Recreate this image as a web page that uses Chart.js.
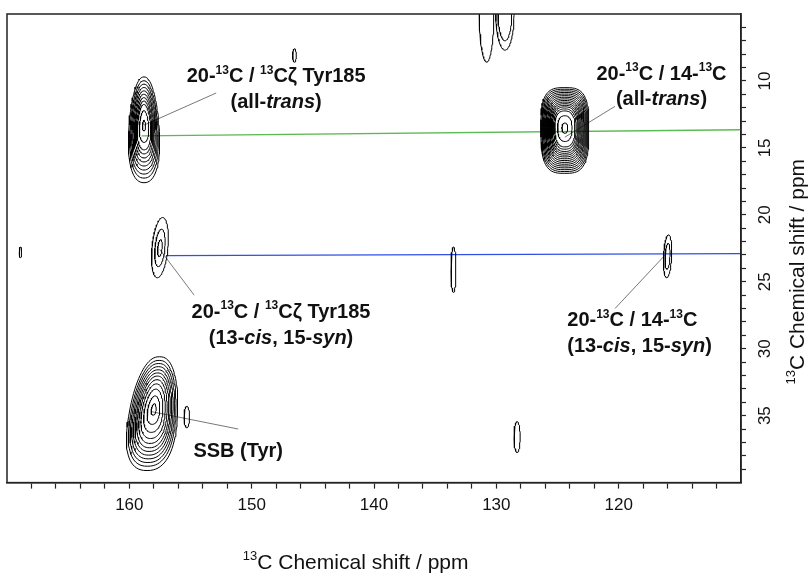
<!DOCTYPE html>
<html>
<head>
<meta charset="utf-8">
<script src="https://cdn.jsdelivr.net/npm/chart.js@4.4.1/dist/chart.umd.min.js"></script>
<style>
  html, body { margin: 0; padding: 0; background: #fff; }
</style>
</head>
<body>
<canvas id="nmr" width="809" height="574"></canvas>
<script>
// ==============================
// DATA
// ==============================

// axis ranges (ppm) and labelled ticks
const xRange = [110, 170];
const yRange = [5, 40];
const xTickLabels = [120, 130, 140, 150, 160];
const yTickLabels = [10, 15, 20, 25, 30, 35];
const axisTitle = '^13C Chemical shift / ppm';

// cross peaks: centre (ppm), half width, extent up / down, skew, taper, squareness
const peakX      = [158.8, 124.4, 157.5, 116.0, 133.5, 158.0, 155.3, 128.3, 168.9, 146.5, 130.8, 129.3];
const peakY      = [13.3, 13.5, 22.5, 23.1, 24.1, 34.5, 35.1, 36.6, 22.8, 8.1, 4.8, 4.9];
const peakW      = [1.22, 1.96, 0.65, 0.33, 0.2, 1.95, 0.22, 0.25, 0.1, 0.15, 0.6, 0.75];
const peakUp     = [3.6, 3.0, 2.3, 1.6, 1.7, 3.9, 0.8, 1.15, 0.4, 0.5, 3.8, 2.8];
const peakDown   = [4.3, 3.4, 2.2, 1.6, 1.7, 4.6, 0.8, 1.15, 0.4, 0.5, 3.8, 2.8];
const peakShear  = [0, 0, 0.1, 0.05, 0, 0.12, 0, 0, 0, 0, 0, 0];
const peakTaper  = [0.25, 0, 0, 0, 0, 0.2, 0, 0, 0, 0, 0, 0];
const peakSquare = [2.3, 3.2, 2, 2, 2, 2.4, 2, 2, 2, 2, 2, 2];
const peakLevels = [
    [1, .92, .85, .78, .71, .64, .57, .5, .43, .3, .1],
    [1, .96, .92, .88, .84, .8, .76, .72, .68, .64, .6, .56, .52, .47, .42, .3, .12],
    [1, .62, .28],
    [1, .6],
    [1],
    [1, .93, .87, .81, .75, .69, .63, .56, .48, .38, .25, .1],
    [1], [1], [1], [1], [1],
    [1, .75]
];

// reference lines across the spectrum
const greenLine = [[159.0, 14.1], [110, 13.65]];
const blueLine  = [[157.0, 23.05], [110, 22.9]];

// leader lines from labels to peaks
const leaders = [
    [[152.9, 10.9], [158.8, 13.3]],
    [[120.3, 11.9], [124.4, 14.2]],
    [[157.5, 22.6], [154.7, 26.0]],
    [[116.2, 23.0], [120.3, 27.0]],
    [[158.2, 34.7], [151.1, 36.0]]
];

// peak assignments
const labelX = [148.0, 116.5, 147.6, 124.2, 151.1];
const labelY = [9.7, 9.5, 27.3, 27.9, 37.7];
const labelAlign = ['center', 'center', 'center', 'left', 'center'];
const labelLines = [
    ['20-^13C / ^13Cζ Tyr185', '(all-_trans_)'],
    ['20-^13C / 14-^13C', '(all-_trans_)'],
    ['20-^13C / ^13Cζ Tyr185', '(13-_cis_, 15-_syn_)'],
    ['20-^13C / 14-^13C', '(13-_cis_, 15-_syn_)'],
    ['SSB (Tyr)']
];

// ==============================
// CONTOURS
// ==============================

function contourPoints(i, f) {
    const pts = [];
    const p = 2 + (peakSquare[i] - 2) * f;
    for (let k = 0; k <= 80; k++) {
        const t = k / 80 * 2 * Math.PI;
        const c = Math.cos(t), s = Math.sin(t);
        const ux = Math.sign(c) * Math.pow(Math.abs(c), 2 / p);
        const uy = Math.sign(s) * Math.pow(Math.abs(s), 2 / p);
        const dy = uy * (uy < 0 ? peakUp[i] : peakDown[i]) * f;
        const w = peakW[i] * f * (1 + peakTaper[i] * uy);
        pts.push({ x: peakX[i] + ux * w + peakShear[i] * dy, y: peakY[i] + dy });
    }
    return pts;
}

const datasets = [];

peakX.forEach((_, i) => {
    peakLevels[i].forEach(f => {
        datasets.push({
            data: contourPoints(i, f),
            borderColor: '#000',
            borderWidth: 1
        });
    });
});

const toPts = arr => arr.map(([x, y]) => ({ x, y }));

datasets.push({ data: toPts(greenLine), borderColor: '#5cba52', borderWidth: 1.4 });
datasets.push({ data: toPts(blueLine), borderColor: '#2f4fe6', borderWidth: 1.4 });
leaders.forEach(l => datasets.push({ data: toPts(l), borderColor: '#555', borderWidth: 0.8 }));

datasets.forEach(d => {
    d.showLine = true;
    d.pointRadius = 0;
    d.fill = false;
    d.tension = 0;
});

// ==============================
// TEXT HELPERS
// ==============================

// '^13' -> superscript digits, '_x_' -> italic
function parseRich(str) {
    const segs = [];
    let italic = false, i = 0, buf = '';
    const flush = () => { if (buf) segs.push({ t: buf, sup: false, it: italic }); buf = ''; };
    while (i < str.length) {
        const ch = str[i];
        if (ch === '^') {
            flush();
            let d = '';
            i++;
            while (i < str.length && /[0-9]/.test(str[i])) d += str[i++];
            segs.push({ t: d, sup: true, it: italic });
            continue;
        }
        if (ch === '_') { flush(); italic = !italic; i++; continue; }
        buf += ch;
        i++;
    }
    flush();
    return segs;
}

function drawRich(ctx, str, x, y, align, size, bold) {
    const segs = parseRich(str);
    const w = bold ? 'bold ' : '';
    const fontFor = s => (s.it ? 'italic ' : '') + w + (s.sup ? Math.round(size * 0.62) : size) + 'px "Liberation Sans", Arial, sans-serif';
    let total = 0;
    segs.forEach(s => { ctx.font = fontFor(s); s.w = ctx.measureText(s.t).width; total += s.w; });
    let cx = align === 'left' ? x : x - total / 2;
    ctx.textAlign = 'left';
    ctx.textBaseline = 'middle';
    segs.forEach(s => {
        ctx.font = fontFor(s);
        ctx.fillText(s.t, cx, s.sup ? y - size * 0.32 : y);
        cx += s.w;
    });
}

// ==============================
// OVERLAY PLUGIN
// ==============================

const overlay = {
    id: 'overlay',
    afterDraw(chart) {
        const { ctx, chartArea: a, scales: { x, y } } = chart;
        ctx.save();

        // frame (top + left)
        ctx.strokeStyle = '#222';
        ctx.lineWidth = 1.5;
        ctx.strokeRect(a.left, a.top, a.right - a.left, a.bottom - a.top);

        ctx.fillStyle = '#111';

        // y tick labels, rotated
        ctx.font = '17px "Liberation Sans", Arial, sans-serif';
        yTickLabels.forEach(v => {
            ctx.save();
            ctx.translate(a.right + 24, y.getPixelForValue(v));
            ctx.rotate(-Math.PI / 2);
            ctx.textAlign = 'center';
            ctx.textBaseline = 'middle';
            ctx.fillText(String(v), 0, 0);
            ctx.restore();
        });

        // axis titles
        drawRich(ctx, axisTitle, a.left + (a.right - a.left) * 0.475, a.bottom + 81, 'center', 21, false);
        ctx.save();
        ctx.translate(a.right + 57, a.top + (a.bottom - a.top) * 0.55);
        ctx.rotate(-Math.PI / 2);
        drawRich(ctx, axisTitle, 0, 0, 'center', 21, false);
        ctx.restore();

        // peak assignments
        labelLines.forEach((lines, i) => {
            const px = x.getPixelForValue(labelX[i]);
            const py = y.getPixelForValue(labelY[i]);
            lines.forEach((ln, j) => drawRich(ctx, ln, px, py + j * 25.5, labelAlign[i], 20, true));
        });

        ctx.restore();
    }
};

// hide tick marks that sit on the frame corners
const edgeTick = range => c => (c.tick && (c.tick.value === range[0] || c.tick.value === range[1])) ? 'rgba(0,0,0,0)' : '#222';

// ==============================
// CHART
// ==============================

new Chart(document.getElementById('nmr'), {
    type: 'scatter',
    data: { datasets },
    options: {
        responsive: false,
        animation: false,
        events: [],
        layout: { padding: { left: 6, top: 14, right: 63, bottom: 51 } },
        plugins: {
            legend: { display: false },
            tooltip: { enabled: false }
        },
        scales: {
            x: {
                type: 'linear',
                position: 'bottom',
                min: xRange[0],
                max: xRange[1],
                reverse: true,
                border: { color: '#222', width: 1.5 },
                grid: { drawOnChartArea: false, drawTicks: true, tickLength: 6, tickColor: edgeTick(xRange), tickWidth: 1.2 },
                ticks: {
                    stepSize: 2,
                    autoSkip: false,
                    maxTicksLimit: 100,
                    maxRotation: 0,
                    padding: 7,
                    color: '#111',
                    font: { family: '"Liberation Sans", Arial, sans-serif', size: 17 },
                    callback: v => xTickLabels.includes(v) ? String(v) : ''
                }
            },
            y: {
                type: 'linear',
                position: 'right',
                min: yRange[0],
                max: yRange[1],
                reverse: true,
                border: { color: '#222', width: 1.5 },
                grid: { drawOnChartArea: false, drawTicks: true, tickLength: 5, tickColor: edgeTick(yRange), tickWidth: 1.2 },
                ticks: { display: false, stepSize: 1, autoSkip: false, maxTicksLimit: 100 }
            }
        }
    },
    plugins: [overlay]
});
</script>
</body>
</html>
